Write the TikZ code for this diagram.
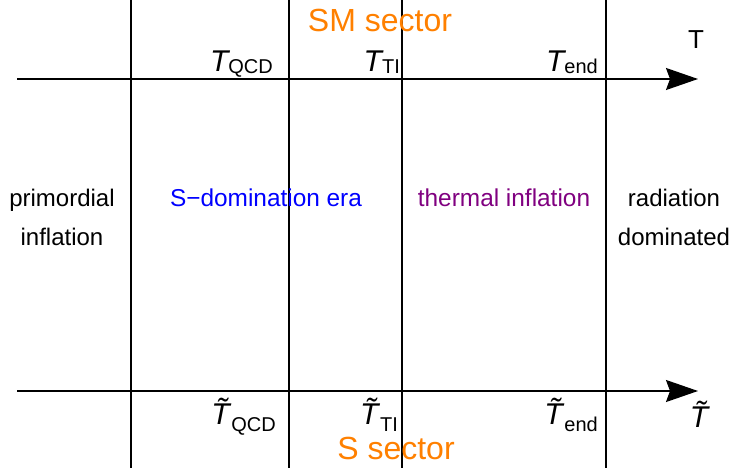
\documentclass[tikz,border=0pt]{standalone}
\usepackage{fontspec}
\setmainfont{Liberation Sans}
\usetikzlibrary{arrows.meta}
\definecolor{secorange}{HTML}{FF8000}
\definecolor{erablue}{HTML}{0000FF}
\definecolor{erapurple}{HTML}{800080}
\newcommand{\tsym}[1]{{\fontsize{30}{30}\selectfont\itshape T}{\fontsize{20}{20}\selectfont\raisebox{-2pt}{#1}}}
\newcommand{\ttsym}[1]{{\fontsize{30}{30}\selectfont\itshape\~{T}}\,{\fontsize{20}{20}\selectfont\raisebox{-7pt}{#1}}}
\begin{document}
\begin{tikzpicture}[x=1pt,y=-1pt,
  line/.style={line width=1.6pt},
  axis/.style={line width=1.6pt,-{Stealth[length=32pt,width=22pt,inset=4pt]}},
  lbl/.style={inner sep=0pt,font=\fontsize{24}{24}\selectfont},
  clbl/.style={inner sep=0pt,font=\fontsize{24.4}{24.4}\selectfont},
  sect/.style={inner sep=0pt,text=secorange,font=\fontsize{32}{32}\selectfont},
  tl/.style={inner sep=0pt,anchor=base east}]
\useasboundingbox (0,0) rectangle (733,468);
% vertical lines
\foreach \n/\x in {a/131,b/289,c/402,d/606}{
  \coordinate (\n t) at (\x,0);
  \coordinate (\n b) at (\x,468);
  \draw[line] (\n t) -- (\n b);
}
% axes
\coordinate (ax1s) at (17,79);
\coordinate (ax1e) at (698,79);
\coordinate (ax2s) at (17,391);
\coordinate (ax2e) at (698,391);
\draw[axis] (ax1s) -- (ax1e);
\draw[axis] (ax2s) -- (ax2e);
% sector labels
\node[sect,anchor=base] (sm) at (380,32) {SM sector};
\node[sect,anchor=base] (ss) at (396,459) {S sector};
% axis variables
\node[inner sep=0pt,anchor=base,font=\fontsize{26}{26}\selectfont] (tvar) at (696,49) {T};
\node[inner sep=0pt,anchor=base,font=\fontsize{30}{30}\selectfont\itshape] (ttvar) at (699,427) {\~{T}};
% top temperatures
\node[tl] (tqcd) at (273,72) {\tsym{QCD}};
\node[tl] (tti) at (400,72) {\tsym{TI}};
\node[tl] (tend) at (598,72) {\tsym{end}};
% bottom temperatures
\node[tl] (ttqcd) at (276,424) {\ttsym{QCD}};
\node[tl] (ttti) at (398,424) {\ttsym{TI}};
\node[tl] (ttend) at (598,424) {\ttsym{end}};
% era labels
\node[lbl,anchor=base] (prim1) at (62,206) {primordial};
\node[lbl,anchor=base] (prim2) at (62,245) {inflation};
\node[clbl,anchor=base,text=erablue] (sdom) at (266,206) {S−domination era};
\node[clbl,anchor=base,text=erapurple] (thi) at (504,206) {thermal inflation};
\node[lbl,anchor=base] (rad1) at (674,206) {radiation};
\node[lbl,anchor=base] (rad2) at (674,245) {dominated};
\end{tikzpicture}
\end{document}
